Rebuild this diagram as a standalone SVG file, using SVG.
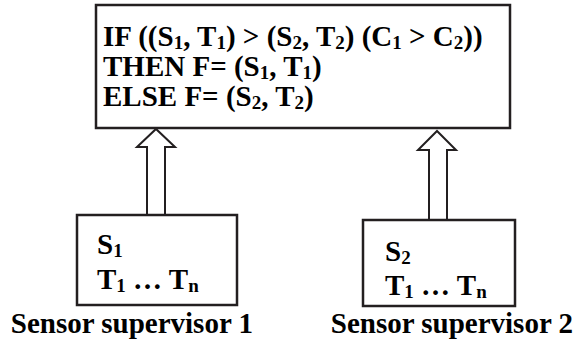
<svg xmlns="http://www.w3.org/2000/svg" width="575" height="343" viewBox="0 0 575 343">
<style>
.box{fill:#fff;stroke:#231f20;stroke-width:2.5}
.arr{fill:#fff;stroke:#231f20;stroke-width:2;stroke-linejoin:miter}
text{font-family:"Liberation Serif","Times New Roman",serif;font-weight:bold;font-size:29px;fill:#000}
.sub{font-size:19px}
</style>
<g id="connectors">
<path class="arr" d="M147,215 L147,147 L137,147 L156,129 L175,147 L165,147 L165,215"/>
<path class="arr" d="M429,220 L429,150 L418,150 L437,131 L456,150 L447,150 L447,220"/>
</g>
<g id="rule">
<rect class="box" x="96" y="5" width="414" height="123"/>
<text x="103" y="46">IF ((S<tspan class="sub" dy="3">1</tspan><tspan dy="-3">, T</tspan><tspan class="sub" dy="3">1</tspan><tspan dy="-3">) &gt; (S</tspan><tspan class="sub" dy="3">2</tspan><tspan dy="-3">, T</tspan><tspan class="sub" dy="3">2</tspan><tspan dy="-3">) (C</tspan><tspan class="sub" dy="3">1</tspan><tspan dy="-3"> &gt; C</tspan><tspan class="sub" dy="3">2</tspan><tspan dy="-3">))</tspan></text>
<text x="103" y="76">THEN F= (S<tspan class="sub" dy="3">1</tspan><tspan dy="-3">, T</tspan><tspan class="sub" dy="3">1</tspan><tspan dy="-3">)</tspan></text>
<text x="103" y="106">ELSE F= (S<tspan class="sub" dy="3">2</tspan><tspan dy="-3">, T</tspan><tspan class="sub" dy="3">2</tspan><tspan dy="-3">)</tspan></text>
</g>
<g id="supervisor1">
<rect class="box" x="77" y="215" width="160" height="90"/>
<text x="97" y="254">S<tspan class="sub" dy="3">1</tspan></text>
<text x="97" y="289">T<tspan class="sub" dy="3">1</tspan><tspan dy="-3"> … T</tspan><tspan class="sub" dy="3">n</tspan></text>
<text x="253" y="333" text-anchor="end">Sensor supervisor 1</text>
</g>
<g id="supervisor2">
<rect class="box" x="363" y="220" width="152" height="86"/>
<text x="385" y="261">S<tspan class="sub" dy="3">2</tspan></text>
<text x="385" y="295">T<tspan class="sub" dy="3">1</tspan><tspan dy="-3"> … T</tspan><tspan class="sub" dy="3">n</tspan></text>
<text x="573" y="333" text-anchor="end">Sensor supervisor 2</text>
</g>
</svg>
